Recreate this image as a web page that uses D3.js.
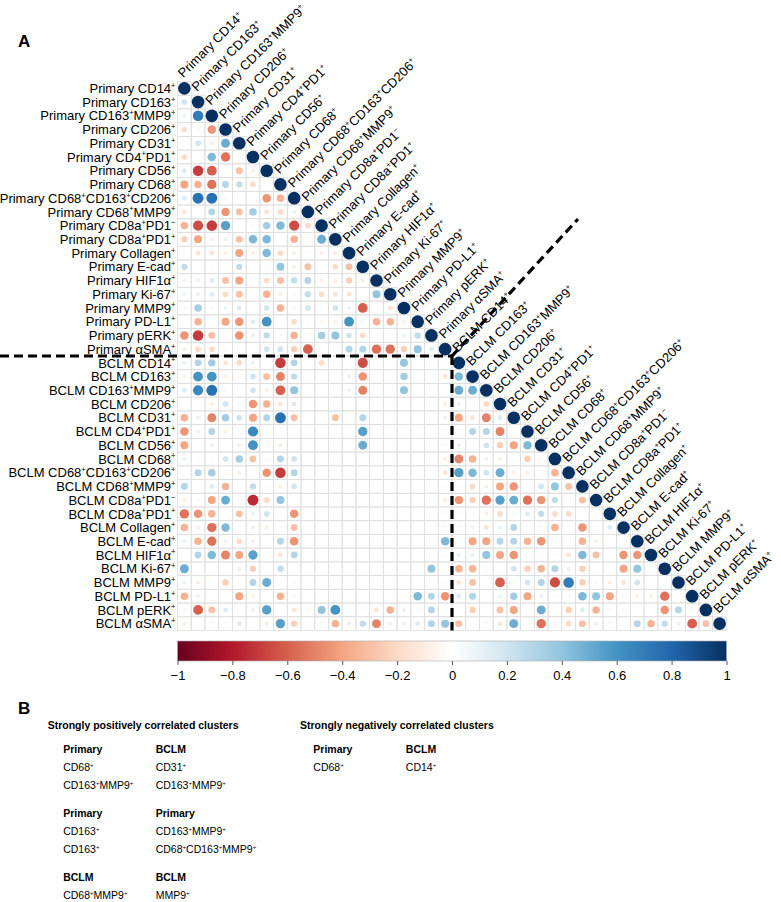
<!DOCTYPE html>
<html><head><meta charset="utf-8">
<script src="https://cdn.jsdelivr.net/npm/d3@7"></script>
<style>
body{margin:0;background:#fff}
svg{display:block}
text{font-family:"Liberation Sans",Arial,Helvetica,sans-serif;fill:#000}
.narrow{font-family:"Liberation Sans Narrow","Arial Narrow","Liberation Sans",Arial,sans-serif}
</style>
</head><body>
<svg id="chart" width="781" height="902"></svg>
<script>
// ---------------- DATA ----------------
const markers = ["CD14^+","CD163^+","CD163^+MMP9^+","CD206^+","CD31^+","CD4^+PD1^+","CD56^+","CD68^+",
  "CD68^+CD163^+CD206^+","CD68^+MMP9^+","CD8a^+PD1^−","CD8a^+PD1^+","Collagen^+","E-cad^+","HIF1α^+",
  "Ki-67^+","MMP9^+","PD-L1^+","pERK^+","αSMA^+"];
const groups = ["Primary","BCLM"];

// Primary vs Primary (lower triangle, row i has i values, diagonal = 1)
const primaryVsPrimary = [
  [],
  [0.2],
  [0.1,0.7],
  [-0.2,-0.05,-0.45],
  [0.02,0.2,-0.1,0.5],
  [-0.2,0,0.45,-0.55,-0.05],
  [0.15,-0.7,-0.6,0.02,-0.3,-0.1],
  [-0.4,-0.35,-0.55,0.3,0.25,-0.2,0.02],
  [0.15,0.75,0.75,-0.05,0,0,-0.45,-0.35],
  [-0.15,0.03,0.3,-0.45,-0.3,0.35,-0.15,-0.2,0.1],
  [-0.35,-0.65,-0.7,0.55,0.05,-0.05,0.35,0.45,-0.65,-0.2],
  [-0.25,-0.4,-0.1,0.1,-0.3,0.45,0.45,0,-0.35,0.03,0.5],
  [-0.05,-0.15,-0.15,-0.1,-0.4,-0.1,0.45,-0.2,-0.1,-0.05,-0.1,-0.1],
  [0.25,0,-0.05,0,0.25,0,-0.05,0.4,-0.1,-0.3,0,-0.2,-0.3],
  [0.1,0.1,0.15,-0.3,-0.4,-0.05,-0.2,-0.3,0.25,0.3,-0.1,-0.1,-0.25,-0.1],
  [0.1,0.1,0.15,-0.2,-0.3,0,-0.35,-0.1,-0.05,0.25,-0.2,-0.15,-0.15,0.03,0.4],
  [0.05,0.35,0.05,0.1,0.15,0,0.2,-0.35,0.05,0.2,0,0.2,0.1,-0.6,0.03,-0.15],
  [0.03,-0.35,0,-0.4,-0.45,0.15,0.6,0,-0.2,0.03,-0.05,-0.1,0.6,-0.05,-0.35,-0.35,-0.1],
  [-0.45,-0.7,-0.3,0,-0.45,0.1,0.25,-0.05,-0.35,0.05,0.35,0.4,0.2,-0.2,0.03,0.03,0.1,0.25],
  [-0.1,-0.2,-0.2,-0.05,0,0,0.2,0.2,-0.25,-0.6,0,0,0.3,0.3,-0.55,-0.55,-0.25,0.4,0.15]
];

// BCLM (rows) vs Primary (columns), full 20 x 20 block
const bclmVsPrimary = [
  [0.1,0.3,0.35,-0.15,-0.2,0.1,0,-0.7,0.3,0.03,-0.2,0,0,-0.65,0,0,0.4,0,0,0],
  [-0.1,0.6,0.6,-0.1,-0.05,0.2,-0.3,-0.5,0.25,0,0,0,0.1,-0.45,0,0,0.35,0,0,-0.15],
  [0.15,0.65,0.75,0.05,0,0.2,-0.1,-0.6,0.4,0,0,0,0.1,-0.5,0,0,0.4,0,0,0],
  [0,0,-0.1,0.2,0.05,-0.45,-0.35,-0.15,0.15,0,0,0,0,0,0,0,0,0,0,-0.1],
  [-0.35,-0.1,-0.5,0.35,0.2,-0.4,0.3,0.75,-0.3,0,0,-0.3,0,0.3,0,0,0,0,0,0.1],
  [-0.45,0.1,0.3,-0.1,0.05,0.65,-0.05,-0.05,0,0,0,0,0,0.55,0,0,0,0,0,0.05],
  [-0.4,0,0.1,0,-0.1,0.6,0.05,-0.1,0,0,0,0,0,0.5,0,0,0,0,0,-0.05],
  [0.1,0.05,-0.05,0.2,0.35,-0.3,-0.05,0.3,0.2,0,0,0,0,0,0,0,0,0,0,-0.1],
  [0,0.3,0.35,-0.05,-0.1,0,-0.45,-0.7,0.3,0,0,0,0,0,0,0,0,0,0,-0.15],
  [0.3,0.02,0.15,-0.35,0,0.25,0.05,-0.1,0.2,0,0,0,0,0,0,0,0,0,0,-0.05],
  [-0.1,-0.05,-0.4,0.5,0.05,-0.75,-0.2,0.4,0,0,0,0,0,0,0,0,0,0,0,-0.1],
  [-0.55,-0.45,-0.35,0,-0.3,0.1,0.2,0.05,-0.45,0,0,0,0,0,0,0,0,0,0,-0.05],
  [-0.35,-0.1,-0.55,0.45,0,0.1,-0.1,0.05,-0.3,0,0,0,0,0,0,0,0,0,0,0.05],
  [0.1,-0.35,-0.55,0.1,-0.2,0.1,0,0.3,-0.45,0,0,0,0,0,0,0,0,0,0,0.45],
  [0,0.3,0.45,-0.5,-0.4,0.55,-0.05,-0.15,0.3,0,0,0,0,0,0,0,0,0,0,-0.05],
  [0.5,0,0,0,0.1,-0.25,0,0.25,0,0,0,0,0,0,0,0,0,0,0.4,0],
  [0.1,-0.1,0,-0.25,-0.05,0.3,0.5,0.05,-0.05,0,0,0,0,0,0,0,0,0,0,-0.05],
  [-0.35,-0.1,0,0,-0.4,-0.1,0,-0.35,-0.05,0,0,0,0,0,0,0,0,0.45,0.3,-0.45],
  [-0.05,-0.6,-0.3,0.15,0,0.1,0.55,0,-0.15,-0.05,0.4,0.6,0,0.05,-0.15,-0.35,0.1,0.05,0.3,0],
  [-0.1,0,-0.05,0.05,0.15,0.03,-0.1,0.55,-0.25,0,-0.05,-0.35,0.1,0.25,-0.5,-0.1,-0.1,0.15,0.3,0.4]
];

// BCLM vs BCLM (lower triangle)
const bclmVsBclm = [
  [],
  [0.45],
  [0.5,0.5],
  [0.1,0,-0.2],
  [-0.4,-0.15,-0.5,0.15],
  [0.05,0.3,0.3,-0.5,0],
  [0.1,0.05,0.2,-0.25,-0.4,0.45],
  [-0.5,-0.35,-0.1,-0.1,0,-0.25,-0.05],
  [0.55,0.45,0.2,0.5,-0.1,-0.1,-0.05,-0.35],
  [0.03,-0.2,-0.1,-0.4,-0.45,0.03,0.2,0.4,-0.3],
  [-0.45,-0.25,-0.55,0.55,0.5,-0.55,-0.45,0.25,0,-0.3],
  [0.05,0.05,-0.1,-0.2,0.05,0.15,0.25,-0.2,-0.2,0,-0.05],
  [0.05,0.1,-0.15,0.1,0.3,0,-0.05,-0.35,0,-0.45,0.05,0.15],
  [0.05,-0.4,-0.4,0.3,0.3,-0.35,-0.45,0.05,0,-0.35,-0.1,0,0],
  [0.1,0.1,0.4,-0.4,-0.45,0.05,0.05,0.05,-0.15,0.45,-0.3,0,-0.45,-0.45],
  [-0.35,-0.35,-0.05,0,0.2,-0.25,-0.35,0.3,0.1,-0.25,0,0,-0.4,0.4,0],
  [-0.15,-0.3,0,-0.6,0.05,0.2,0.3,-0.65,0.7,-0.25,0.05,-0.1,-0.15,0.2,0,0],
  [0.15,0.3,0,0.1,0.35,-0.4,0.1,0.03,-0.05,0.45,0.4,-0.4,-0.05,-0.1,-0.1,-0.55,0],
  [0,-0.25,0,-0.3,-0.4,0.05,0.5,0,-0.25,0.15,-0.35,0.05,0.05,0,0,-0.45,0.3,0.05],
  [-0.3,0.03,-0.05,-0.15,0.5,0.05,-0.55,0.05,-0.2,-0.3,0.1,-0.05,0,0.3,-0.35,0.25,-0.1,-0.6,-0.3]
];

const colorbarTicks = [-1,-0.8,-0.6,-0.4,-0.2,0,0.2,0.4,0.6,0.8,1];
const rdbu = ["#67001F","#B2182B","#D6604D","#F4A582","#FDDBC7","#FFFFFF","#D1E5F0","#92C5DE","#4393C3","#2166AC","#053061"];

const positiveClusters = [
  [["Primary","CD68^+","CD163^+MMP9^+"],["BCLM","CD31^+","CD163^+MMP9^+"]],
  [["Primary","CD163^+","CD163^+"],["Primary","CD163^+MMP9^+","CD68^+CD163^+MMP9^+"]],
  [["BCLM","CD68^+MMP9^+"],["BCLM","MMP9^+"]]
];
const negativeClusters = [
  [["Primary","CD68^+"],["BCLM","CD14^+"]]
];

// ---------------- BUILD ----------------
const labels = [];
groups.forEach(g => markers.forEach(m => labels.push(g + " " + m)));
const N = labels.length;

function corrValue(i, j) {
  if (i === j) return 1;
  if (i < 20) return primaryVsPrimary[i][j];
  if (j < 20) return bclmVsPrimary[i - 20][j];
  return bclmVsBclm[i - 20][j - 20];
}
const cells = [];
for (let i = 0; i < N; i++) for (let j = 0; j <= i; j++) cells.push({i, j, v: corrValue(i, j)});

const svg = d3.select("#chart");
const x = d3.scaleBand().domain(d3.range(N)).range([177.5, 726.5]).padding(0);
const y = d3.scaleBand().domain(d3.range(N)).range([81.5, 630.5]).padding(0);
const bw = x.bandwidth();
const color = d3.scaleLinear().domain(colorbarTicks).range(rdbu).interpolate(d3.interpolateRgb);
const rScale = d3.scaleSqrt().domain([0, 1]).range([0, 0.46 * bw]);

function richText(sel, str, fs) {
  const parts = str.split(/(\^[+−])/);
  let sup = false;
  parts.forEach(p => {
    if (!p) return;
    if (p[0] === "^") {
      sel.append("tspan").attr("font-size", fs * 0.58).attr("dy", -fs * 0.4).text(p[1]);
      sup = true;
    } else {
      sel.append("tspan").attr("dy", sup ? fs * 0.4 : 0).text(p);
      sup = false;
    }
  });
}

svg.append("text").attr("x", 18).attr("y", 47).attr("font-size", 17).attr("font-weight", "bold").text("A");

svg.append("g").selectAll("rect").data(cells).join("rect")
  .attr("x", d => x(d.j)).attr("y", d => y(d.i))
  .attr("width", bw).attr("height", bw)
  .attr("fill", "none").attr("stroke", "#dedede").attr("stroke-width", 0.8);

svg.append("g").selectAll("circle").data(cells.filter(d => d.v !== 0)).join("circle")
  .attr("cx", d => x(d.j) + bw / 2).attr("cy", d => y(d.i) + bw / 2)
  .attr("r", d => rScale(Math.abs(d.v)))
  .attr("fill", d => color(d.v));

const fs = 13;
const rowG = svg.append("g");
labels.forEach((lab, i) => {
  const t = rowG.append("text").attr("x", x(0) - 2).attr("y", y(i) + bw / 2 + fs * 0.36)
    .attr("text-anchor", "end").attr("font-size", fs);
  richText(t, lab, fs);
});
const colG = svg.append("g");
labels.forEach((lab, j) => {
  const cx = x(j) + bw / 2, cy = y(j) + bw / 2;
  const t = colG.append("text")
    .attr("transform", `translate(${cx - 1},${cy - 10}) rotate(-45)`)
    .attr("font-size", fs);
  richText(t, lab, fs);
});

const bx = x(20), by = y(20);
const dash = svg.append("g").attr("stroke", "#000").attr("stroke-width", 3.2)
  .attr("stroke-dasharray", "9,5").attr("fill", "none");
dash.append("line").attr("x1", 0).attr("x2", bx).attr("y1", by).attr("y2", by);
dash.append("line").attr("x1", bx).attr("x2", bx).attr("y1", by).attr("y2", y.range()[1]);
dash.append("line").attr("x1", bx).attr("y1", by).attr("x2", bx + 126).attr("y2", by - 137);

const cb = {x0: x.range()[0], x1: x.range()[1], y0: 641, h: 20};
const defs = svg.append("defs");
const grad = defs.append("linearGradient").attr("id", "cbgrad");
d3.range(0, 1.0001, 0.02).forEach(t => grad.append("stop").attr("offset", t).attr("stop-color", color(-1 + 2 * t)));
svg.append("rect").attr("x", cb.x0).attr("y", cb.y0).attr("width", cb.x1 - cb.x0).attr("height", cb.h)
  .attr("fill", "url(#cbgrad)").attr("stroke", "#aaa").attr("stroke-width", 0.6);
const cbScale = d3.scaleLinear().domain([-1, 1]).range([cb.x0, cb.x1]);
const cbAxis = d3.axisBottom(cbScale).tickValues(colorbarTicks).tickSize(4).tickSizeOuter(0)
  .tickFormat(d => d3.format("")(d));
const ag = svg.append("g").attr("transform", `translate(0,${cb.y0 + cb.h})`).call(cbAxis);
ag.select(".domain").remove();
ag.selectAll("line").attr("stroke", "#555");
ag.selectAll("text").attr("font-size", 13).attr("font-family", "Liberation Sans, Arial, sans-serif").attr("dy", "0.9em");

// ---------------- Panel B ----------------
svg.append("text").attr("x", 18).attr("y", 714).attr("font-size", 17).attr("font-weight", "bold").text("B");
const bfs = 10.5;
function clusterBlock(title, x0, off, pairs) {
  svg.append("text").attr("class", "narrow").attr("x", x0).attr("y", 729).attr("font-size", bfs)
    .attr("font-weight", "bold").text(title);
  pairs.forEach((pair, bi) => {
    const top = 753 + bi * 64;
    pair.forEach((col, ci) => {
      const cx = x0 + off + ci * 92.5;
      col.forEach((s, li) => {
        const t = svg.append("text").attr("class", "narrow").attr("x", cx).attr("y", top + li * 18)
          .attr("font-size", bfs).attr("font-weight", li === 0 ? "bold" : "normal");
        richText(t, s, bfs);
      });
    });
  });
}
clusterBlock("Strongly positively correlated clusters", 47.7, 15.5, positiveClusters);
clusterBlock("Strongly negatively correlated clusters", 300, 13.3, negativeClusters);
</script>
</body></html>
